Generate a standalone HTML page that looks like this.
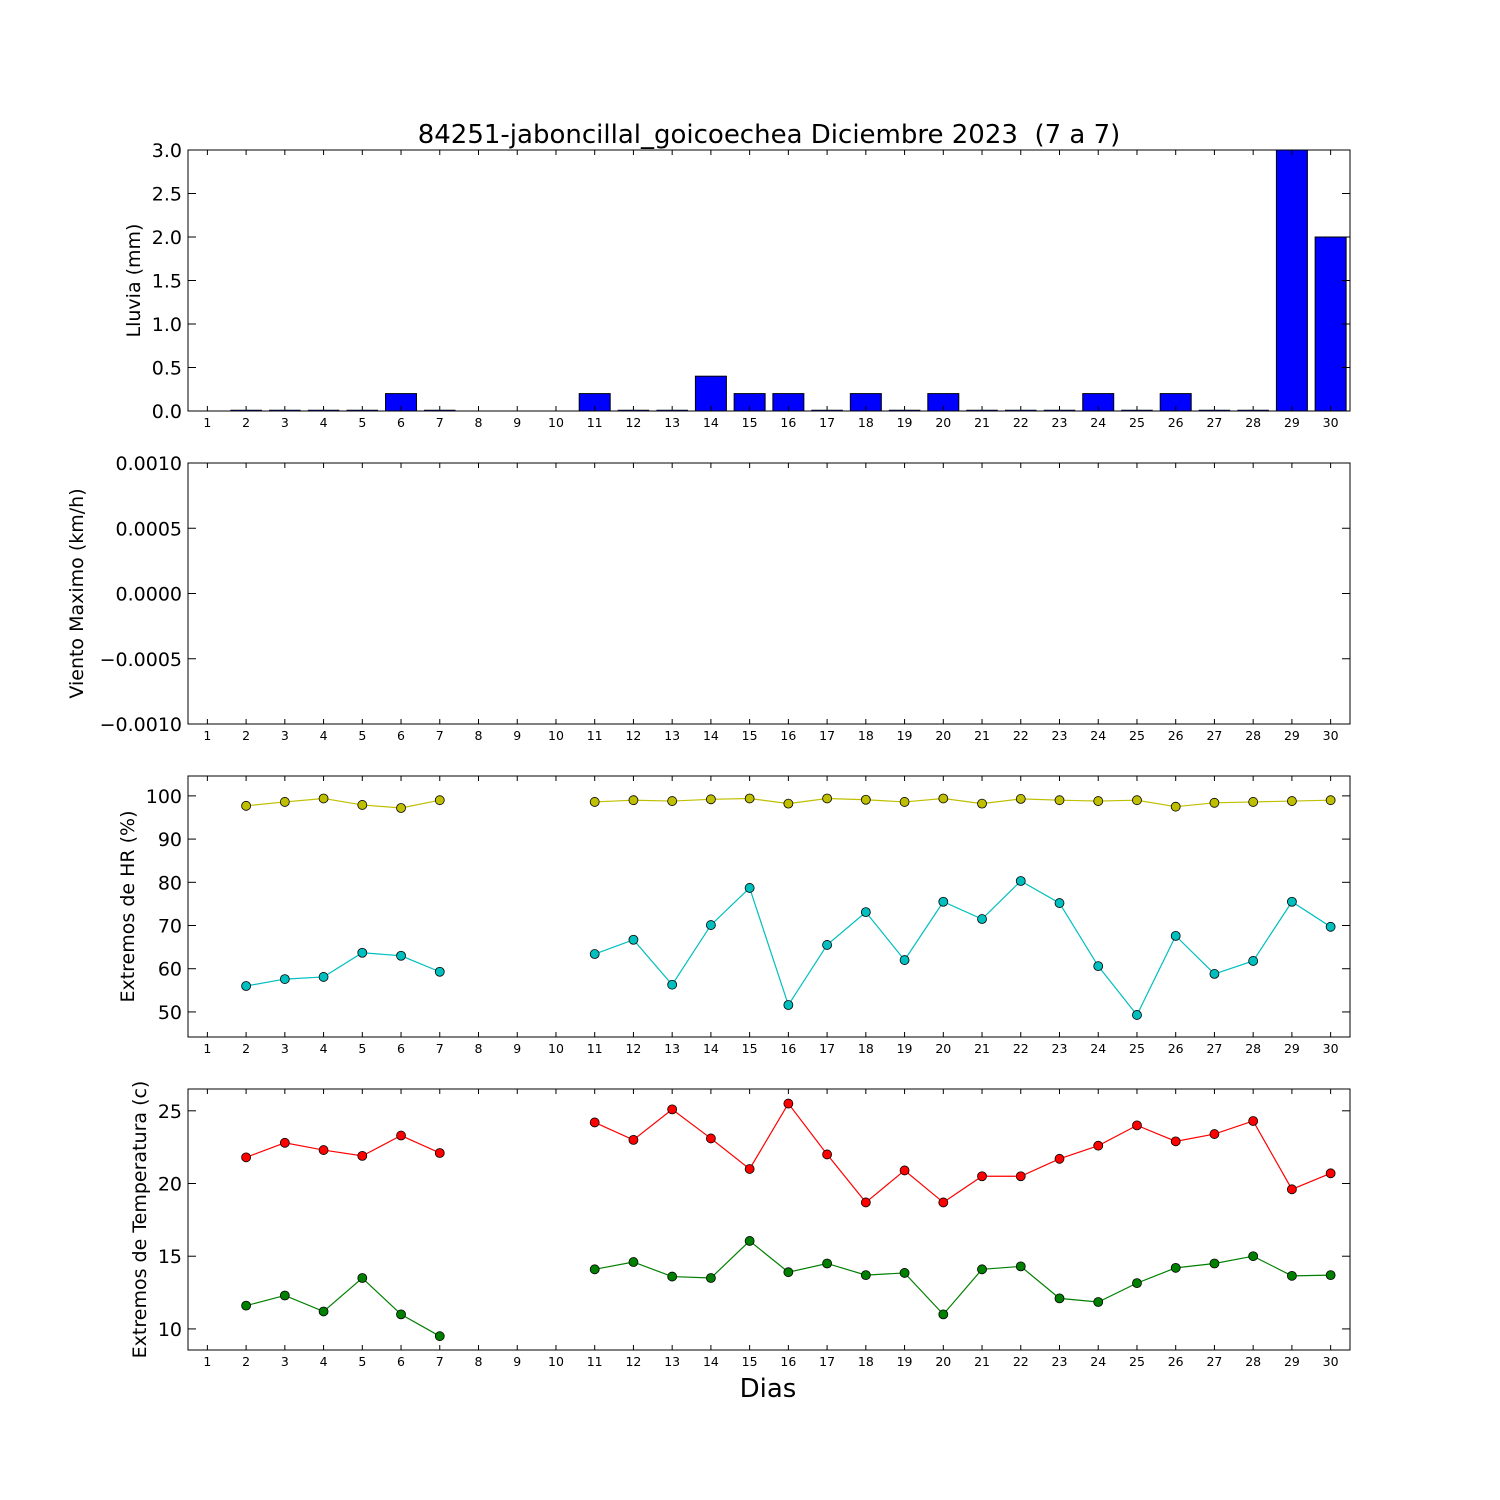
<!DOCTYPE html>
<html><head><meta charset="utf-8"><style>
html,body{margin:0;padding:0;background:#fff}
svg{display:block;font-family:"DejaVu Sans","Liberation Sans",sans-serif}
</style></head><body>
<svg id="chart" width="1500" height="1500" viewBox="0 0 1500 1500" xmlns="http://www.w3.org/2000/svg">
<rect width="1500" height="1500" fill="#fff"/>
<text x="769" y="143" font-size="26" text-anchor="middle" style="white-space:pre" xml:space="preserve">84251-jaboncillal_goicoechea Diciembre 2023  (7 a 7)</text>
<text x="768" y="1397" font-size="26" text-anchor="middle">Dias</text>
</svg>
<script>
const days = Array.from({length:30},(_,i)=>i+1);
const rain = [null,0,0,0,0,0.2,0,null,null,null,0.2,0,0,0.4,0.2,0.2,0,0.2,0,0.2,0,0,0,0.2,0,0.2,0,0,3.0,2.0];
const hrMax = [null,97.7,98.6,99.4,97.9,97.2,99.0,null,null,null,98.6,99.0,98.8,99.2,99.4,98.2,99.4,99.1,98.6,99.4,98.2,99.3,99.0,98.8,99.0,97.5,98.4,98.6,98.8,99.0];
const hrMin = [null,56.0,57.6,58.1,63.7,63.0,59.3,null,null,null,63.4,66.7,56.3,70.1,78.7,51.6,65.5,73.1,62.0,75.5,71.5,80.3,75.2,60.6,49.3,67.6,58.8,61.8,75.5,69.7];
const tMax = [null,21.8,22.8,22.3,21.9,23.3,22.1,null,null,null,24.2,23.0,25.1,23.1,21.0,25.5,22.0,18.7,20.9,18.7,20.5,20.5,21.7,22.6,24.0,22.9,23.4,24.3,19.6,20.7];
const tMin = [null,11.6,12.3,11.2,13.5,11.0,9.5,null,null,null,14.1,14.6,13.6,13.5,16.05,13.9,14.5,13.7,13.85,11.0,14.1,14.3,12.1,11.85,13.15,14.2,14.5,15.0,13.65,13.7];
const rainTicks = ["0.0","0.5","1.0","1.5","2.0","2.5","3.0"];
const windTicks = ["\u22120.0010","\u22120.0005","0.0000","0.0005","0.0010"];
const hrTicks = ["50","60","70","80","90","100"];
const tTicks = ["10","15","20","25"];

const NS="http://www.w3.org/2000/svg";
const svg=document.getElementById('chart');
const L=188,R=1350;
function el(tag,attrs,parent){const e=document.createElementNS(NS,tag);for(const k in attrs)e.setAttribute(k,attrs[k]);(parent||svg).appendChild(e);return e;}
const xs=d=>L+(d-0.5)*(R-L)/30;

function panel(name,top,bot,ymin,ymax,ticks,ylabel,lx){
  const g=el('g',{});
  
  
  const ys=v=>bot-(v-ymin)/(ymax-ymin)*(bot-top);
  return {g,ys,top,bot,ticks,ylabel,name,lx};
}
function frame(p){
  const {g,ys,top,bot,ticks,ylabel,name,lx}=p;
  const f=el('rect',{x:L,y:top,width:R-L,height:bot-top,fill:'none',stroke:'#000','stroke-width':1},g);
  
  
  days.forEach(d=>{
    const x=xs(d);
    el('line',{x1:x,x2:x,y1:bot,y2:bot-5,stroke:'#000'},g);
    el('line',{x1:x,x2:x,y1:top,y2:top+5,stroke:'#000'},g);
    const t=el('text',{x:x,y:bot+16,'font-size':12.5,'text-anchor':'middle'},g);
    t.textContent=d;
    
    
  });
  ticks.forEach(s=>{
    const v=parseFloat(s.replace('\u2212','-'));const y=ys(v);
    el('line',{x1:L,x2:L+8,y1:y,y2:y,stroke:'#000'},g);
    el('line',{x1:R,x2:R-8,y1:y,y2:y,stroke:'#000'},g);
    const t=el('text',{x:L-6,y:y+7,'font-size':19,'text-anchor':'end'},g);
    t.textContent=s;
    
    
  });
  const cy=(top+bot)/2;
  const yl=el('text',{x:0,y:0,'font-size':19,'text-anchor':'middle',transform:`translate(${lx},${cy}) rotate(-90)`},g);
  yl.textContent=ylabel;
  
  
}
function series(p,vals,color,sname){
  let seg=[];const segs=[];
  vals.forEach((v,i)=>{if(v===null){if(seg.length)segs.push(seg);seg=[];}else seg.push([xs(days[i]),p.ys(v)]);});
  if(seg.length)segs.push(seg);
  segs.forEach(s=>{
    const pl=el('polyline',{points:s.map(q=>q.join(',')).join(' '),fill:'none',stroke:color,'stroke-width':1.2},p.g);
    
    
  });
  vals.forEach((v,i)=>{if(v===null)return;
    const c=el('circle',{cx:xs(days[i]),cy:p.ys(v),r:4.5,fill:color,stroke:'#000','stroke-width':0.8},p.g);
    
    
  });
}

const p1=panel('rain',150,411,0,3,rainTicks,'Lluvia (mm)',140);
const bw=0.8*(R-L)/30;
rain.forEach((v,i)=>{if(v===null)return;
  const y=p1.ys(v);
  const h=Math.max(p1.bot-y,0);
  const b=el('rect',{x:xs(days[i])-bw/2,y:h>0?y:p1.bot-1,width:bw,height:h>0?h:1,fill:'#0000ff',stroke:'#000','stroke-width':h>0?1:0.5},p1.g);
  
  
});
frame(p1);

const p2=panel('wind',463,724,-0.001,0.001,windTicks,'Viento Maximo (km/h)',83);
frame(p2);

const p3=panel('humidity',776,1037,44.2,104.6,hrTicks,'Extremos de HR (%)',134);
series(p3,hrMax,'#bfbf00','hr-max');
series(p3,hrMin,'#00bfbf','hr-min');
frame(p3);

const p4=panel('temp',1089,1350,8.55,26.5,tTicks,'Extremos de Temperatura (c)',146);
series(p4,tMax,'#ff0000','temp-max');
series(p4,tMin,'#008000','temp-min');
frame(p4);
</script>
</body></html>
